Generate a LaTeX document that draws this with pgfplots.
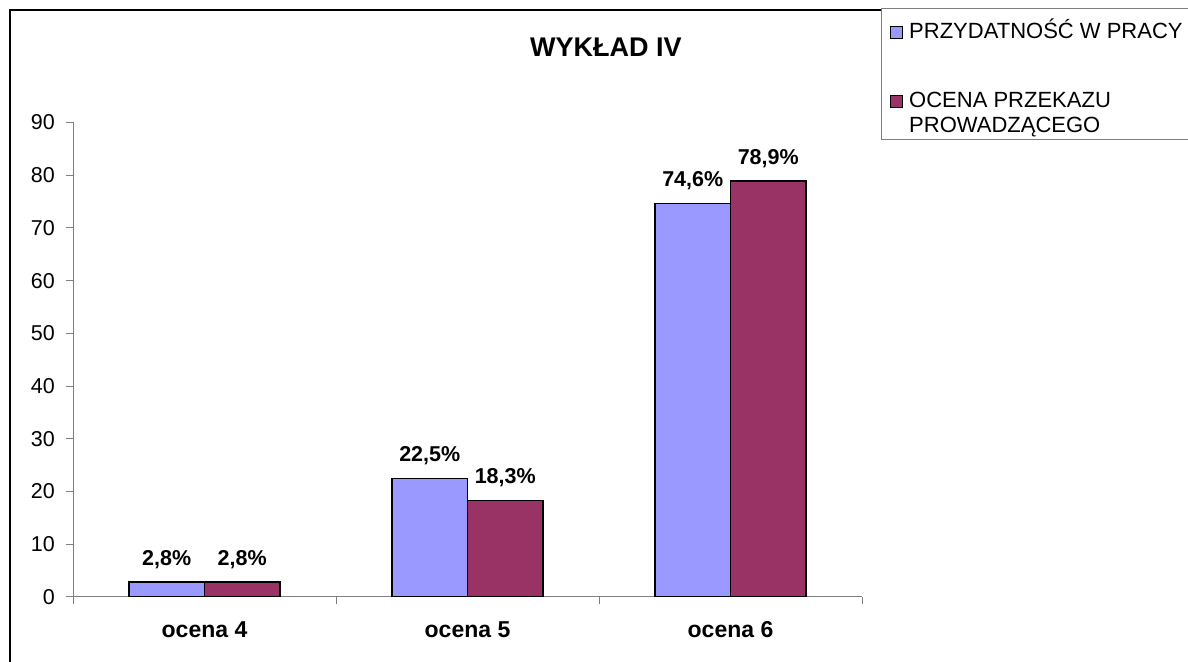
\documentclass[border=0pt]{standalone}
\usepackage{pgfplots}
\pgfplotsset{compat=1.18}
\usepackage{fontspec}
\setmainfont{Liberation Sans}
\definecolor{cblue}{HTML}{9999FF}
\definecolor{cred}{HTML}{993366}
\definecolor{axgray}{HTML}{7F7F7F}
\begin{document}
\begin{tikzpicture}[x=1pt,y=1pt]
\useasboundingbox (0,0) rectangle (1188,661);
\draw[line width=2pt, black] (10,-5) -- (10,651) -- (1195,651);
\draw[line width=1pt, axgray, fill=white] (881,652) rectangle (1195,521);
\begin{axis}[
  at={(73pt,64pt)}, anchor=south west,
  scale only axis, width=789pt, height=474.5pt,
  xmin=-0.5, xmax=2.5, ymin=0, ymax=90,
  axis x line*=bottom, axis y line*=left,
  axis line style={draw=axgray, line width=1pt},
  ybar=0pt, bar width=75.5pt,
  ytick={0,10,...,90},
  xtick={0,1,2}, xticklabels={ocena 4, ocena 5, ocena 6},
  tick align=outside, major tick length=7pt,
  tick style={draw=axgray, line width=1pt},
  xtick style={draw=none},
  extra x ticks={-0.5,0.5,1.5,2.5}, extra x tick labels={},
  extra x tick style={xtick style={draw=axgray, line width=1pt}},
  /pgf/number format/assume math mode=true,
  yticklabel style={font=\fontsize{21.5}{25}\selectfont, anchor=east, inner sep=0pt, xshift=-11pt},
  xticklabel style={font=\fontsize{23}{27}\selectfont\bfseries, anchor=base, inner sep=0pt, yshift=-33pt},
  title={WYKŁAD IV},
  title style={at={(axis description cs:0.6755,1.1465)}, anchor=center, font=\fontsize{27}{31}\selectfont\bfseries, inner sep=0pt},
  point meta=explicit symbolic,
  nodes near coords,
  nodes near coords style={font=\fontsize{21.5}{25}\selectfont\bfseries, anchor=base, inner sep=0pt, yshift=17pt},
  legend style={at={(axis description cs:1.0355,1.2287)}, anchor=north west, draw=none, fill=none,
    font=\fontsize{22}{26}\selectfont, row sep=0pt, column sep=6pt, inner sep=0pt,
    nodes={inner sep=0pt}},
  legend cell align=left,
]
\addplot[fill=cblue, draw=black, line width=1.5pt,
  legend image code/.code={\draw[fill=cblue,draw=black,line width=1pt] (0pt,-12pt) rectangle (12pt,0pt);}]
  coordinates {(0,2.8) [2,8\%] (1,22.5) [22,5\%] (2,74.6) [74,6\%]};
\addlegendentry{\rule[-5pt]{0pt}{29pt}PRZYDATNOŚĆ W PRACY}
\addlegendimage{empty legend}
\addlegendentry{\rule{0pt}{42pt}}
\addplot[fill=cred, draw=black, line width=1.5pt,
  legend image code/.code={\draw[fill=cred,draw=black,line width=1pt] (0pt,-12pt) rectangle (12pt,0pt);}]
  coordinates {(0,2.8) [2,8\%] (1,18.3) [18,3\%] (2,78.9) [78,9\%]};
\addlegendentry{\rule[-5pt]{0pt}{29pt}OCENA PRZEKAZU}
\addlegendimage{empty legend}
\addlegendentry{\rule[-5pt]{0pt}{29pt}PROWADZĄCEGO}
\end{axis}
\end{tikzpicture}
\end{document}
